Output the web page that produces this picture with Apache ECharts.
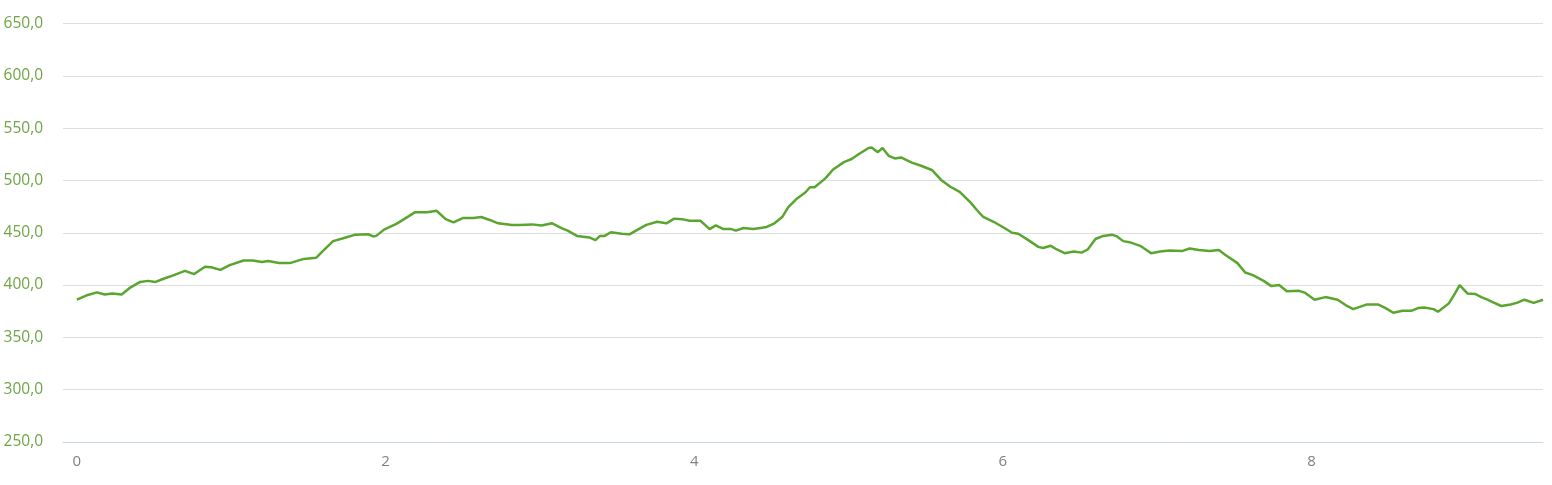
<!DOCTYPE html>
<html>
<head>
<meta charset="utf-8">
<script src="https://cdn.jsdelivr.net/npm/echarts@6/dist/echarts.min.js"></script>
<style>
html,body{margin:0;padding:0;background:#fff;}
#chart{width:1552px;height:485px;}
</style>
</head>
<body>
<div id="chart"></div>
<script>
// Distance along the route (km)
const distanceKm = [
  0.00,0.06,0.13,0.18,0.23,0.29,0.34,0.41,0.46,0.51,0.57,0.62,0.70,0.76,0.83,0.87,0.93,0.99,
  1.08,1.14,1.20,1.24,1.31,1.38,1.47,1.55,1.59,1.66,1.72,1.80,1.89,1.92,1.94,1.99,
  2.07,2.12,2.19,2.27,2.33,2.39,2.44,2.50,2.57,2.62,2.68,2.73,2.82,2.87,2.95,
  3.01,3.08,3.14,3.18,3.24,3.32,3.36,3.39,3.42,3.46,3.53,3.58,3.64,3.69,3.76,3.82,3.87,3.92,3.97,
  4.04,4.07,4.10,4.14,4.19,4.24,4.27,4.32,4.38,4.43,4.47,4.52,4.57,4.61,4.66,4.72,4.75,4.78,4.85,4.90,4.97,
  5.02,5.07,5.13,5.15,5.19,5.22,5.26,5.30,5.34,5.41,5.47,5.54,5.60,5.66,5.72,5.79,5.83,5.87,5.94,
  6.01,6.06,6.10,6.17,6.23,6.26,6.31,6.35,6.40,6.46,6.51,6.55,6.60,6.65,6.71,6.74,6.78,6.82,6.89,6.93,6.96,
  7.02,7.08,7.16,7.21,7.27,7.34,7.40,7.44,7.52,7.57,7.62,7.69,7.74,7.79,7.84,7.92,7.96,
  8.02,8.09,8.17,8.23,8.27,8.36,8.43,8.48,8.53,8.59,8.65,8.69,8.73,8.79,8.82,8.89,8.93,8.96,
  9.01,9.06,9.10,9.14,9.17,9.23,9.29,9.33,9.38,9.44,9.50
];
// Elevation (m)
const elevationM = [
  386,390,393,391,392,391,397,403,404,403,406.5,409,413.5,410.5,417.5,417,414.5,419,
  423.5,423.5,422,423,421,421,425,426,432,442,444.5,448,448.5,446.5,447,453,
  458.5,463,469.5,469.5,471,463,460,464,464,465,462,459,457.5,457.5,458,
  457,459,454.5,452,447,445.5,443,447,447,450.5,449,448.5,453.5,457.5,460.5,459,463.5,463,461.5,
  461.5,457.5,453.5,457,453.5,453.5,452,454.5,453.5,454.5,455.5,459,465,474.5,482,488.5,493.5,493.5,502,510.5,517.5,
  520.5,525.5,531,531.5,527,531,523.5,521,522,517,514,510,500.5,494,489,479,472,465.5,460.5,
  454.5,450,449,442.5,436.5,435.5,437.5,434,430.5,432,431,434,444,447,448,446.5,442,441,437.5,433.5,430.5,
  432,433,432.5,435,433.5,432.5,433.5,429,421,412,409.5,404,399,400,394,394.5,392.5,
  386,388.5,386,380,377,381.5,381.5,378,373.5,375.5,375.5,378,378.5,377,374.5,382.5,392,400,
  392,391.5,388.5,386,384,380,381.5,383,386,383,386
];
const xTickValues = [0, 2, 4, 6, 8];
const yMin = 250, yMax = 650, yStep = 50;

const seriesData = distanceKm.map((d, i) => [d, elevationM[i]]);

const chart = echarts.init(document.getElementById('chart'), null, {renderer: 'canvas'});
chart.setOption({
  animation: false,
  backgroundColor: '#ffffff',
  grid: {left: 63, right: 9, top: 23.5, bottom: 43},
  xAxis: {
    type: 'value',
    min: -0.09,
    max: 9.5,
    axisLine: {show: true, lineStyle: {color: '#ccd6eb', width: 1}},
    axisTick: {show: false},
    splitLine: {show: false},
    axisLabel: {
      customValues: xTickValues,
      color: '#808080',
      fontFamily: 'Open Sans',
      fontSize: 15,
      margin: 12,
      formatter: v => String(v)
    }
  },
  yAxis: {
    type: 'value',
    min: yMin,
    max: yMax,
    interval: yStep,
    axisLine: {show: false},
    axisTick: {show: false},
    splitLine: {show: true, lineStyle: {color: '#dedede', width: 1}},
    axisLabel: {
      color: '#6fa544',
      fontFamily: 'Open Sans',
      fontSize: 15.5,
      margin: 20,
      formatter: v => v.toFixed(1).replace('.', ',')
    }
  },
  series: [{
    type: 'line',
    data: seriesData,
    showSymbol: false,
    smooth: false,
    lineStyle: {color: '#5aa52f', width: 2.5},
    itemStyle: {color: '#5aa52f'}
  }]
});
</script>
</body>
</html>
